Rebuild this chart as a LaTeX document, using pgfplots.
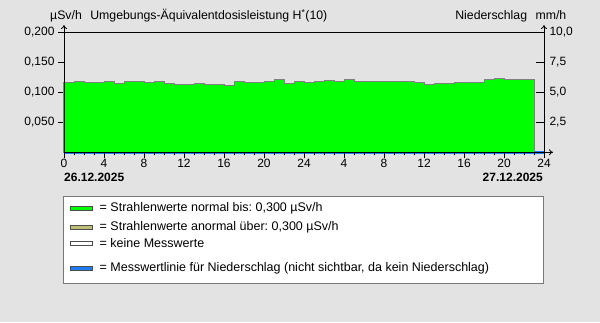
\documentclass[border=0pt]{standalone}
\usepackage{pgfplots}
\pgfplotsset{compat=1.18}
\usepackage{fontspec}
\setmainfont{Liberation Sans}
\usetikzlibrary{arrows.meta}
\definecolor{bgc}{RGB}{227,227,227}
\definecolor{grn}{RGB}{0,255,0}
\definecolor{olv}{RGB}{190,190,120}
\definecolor{rainb}{RGB}{30,125,245}
\definecolor{edge}{RGB}{128,128,128}
\definecolor{lborder}{RGB}{120,120,120}
\begin{document}
\frenchspacing
\begin{tikzpicture}[x=1pt,y=1pt,font=\fontsize{12}{14}\selectfont]
\fill[bgc] (0,0) rectangle (600,322);
\useasboundingbox (0,0) rectangle (600,322);
% precipitation axis (right)
\begin{axis}[at={(64pt,169.7pt)}, anchor=south west, scale only axis,
  width=480pt, height=120pt, xmin=0, xmax=48, ymin=0, ymax=10, clip=false,
  axis y line*=right, axis x line=none, axis line style={draw=none},
  ytick={2.5,5,7.5,10}, tick align=inside, major tick length=8pt,
  tick style={black, line width=0.8pt},
  yticklabel style={xshift=2pt, /pgf/number format/.cd, fixed, fixed zerofill, precision=1, use comma},
  /pgf/number format/assume math mode=true,
  ticklabel style={font=\fontsize{12}{14}\selectfont},
]
\addplot[rainb, line width=2.5pt, forget plot] coordinates {(0,0) (48,0)};
\end{axis}
% dose rate axis (left)
\begin{axis}[at={(64pt,169.7pt)}, anchor=south west, scale only axis,
  width=480pt, height=120pt, xmin=0, xmax=48, ymin=0, ymax=0.2, clip=false,
  axis x line*=bottom, axis y line*=left, axis line style={draw=none},
  xtick={0,4,...,48}, xticklabels={0,4,8,12,16,20,24,4,8,12,16,20,24},
  minor x tick num=3,
  ytick={0.05,0.1,0.15,0.2},
  tick align=outside, major tick length=6pt, minor tick length=3pt,
  tick style={black, line width=0.8pt},
  yticklabel style={/pgf/number format/.cd, fixed, fixed zerofill, precision=3, use comma},
  xticklabel style={yshift=3pt},
  /pgf/number format/assume math mode=true,
  ticklabel style={font=\fontsize{12}{14}\selectfont},
]
\addplot[const plot, fill=grn, draw=edge, line width=1pt] coordinates {
(0,0.117) (1,0.1187) (2,0.117) (3,0.117) (4,0.1187) (5,0.1153) (6,0.1187) (7,0.1187)
(8,0.117) (9,0.1187) (10,0.1153) (11,0.113) (12,0.113) (13,0.1153) (14,0.1137) (15,0.1137)
(16,0.112) (17,0.1187) (18,0.117) (19,0.117) (20,0.1187) (21,0.122) (22,0.1153) (23,0.118)
(24,0.117) (25,0.1187) (26,0.1203) (27,0.1187) (28,0.122) (29,0.1187) (30,0.1187) (31,0.1187)
(32,0.1187) (33,0.1187) (34,0.1187) (35,0.117) (36,0.1137) (37,0.1153) (38,0.1153) (39,0.117)
(40,0.117) (41,0.117) (42,0.122) (43,0.1237) (44,0.122) (45,0.122) (46,0.122) (47,0.122)
} \closedcycle;
\end{axis}
% axis lines
\draw[line width=0.8pt] (64,289.7) -- (544,289.7);
\draw[line width=0.8pt, -{To[length=4pt,width=6pt]}] (64,169.7) -- (64,297);
\draw[line width=0.8pt, -{To[length=4pt,width=6pt]}] (544,169.7) -- (544,297);
\draw[line width=0.8pt, -{To[length=4pt,width=6pt]}] (64,169.7) -- (553,169.7);
% titles
\node[anchor=base west, inner sep=0pt, font=\fontsize{12.3}{14}\selectfont] at (50,302) {µSv/h\hspace{5pt} Umgebungs-Äquivalentdosisleistung H\textsuperscript{*}(10)};
\node[anchor=base east, inner sep=0pt, font=\fontsize{12.3}{14}\selectfont] at (566.5,302) {Niederschlag\hspace{5pt} mm/h};
\node[anchor=base west, inner sep=0pt, font=\fontsize{12}{14}\selectfont\bfseries] at (64,141) {26.12.2025};
\node[anchor=base east, inner sep=0pt, font=\fontsize{12}{14}\selectfont\bfseries] at (543,141) {27.12.2025};
% legend
\draw[lborder, fill=white, line width=0.8pt] (63,39) rectangle (543,126);
\foreach \yy/\cc/\tt in {114/grn/{= Strahlenwerte normal bis: 0,300 µSv/h},
                        95/olv/{= Strahlenwerte anormal über: 0,300 µSv/h},
                        79/white/{= keine Messwerte},
                        54/rainb/{= Messwertlinie für Niederschlag (nicht sichtbar, da kein Niederschlag)}}{
  \draw[black!70, fill=\cc, line width=0.6pt] (70,\yy-2) rectangle (92,\yy+2);
  \node[anchor=west, inner sep=0pt, font=\fontsize{12.5}{14}\selectfont] at (99.5,\yy) {\tt};
}
\end{tikzpicture}
\end{document}
